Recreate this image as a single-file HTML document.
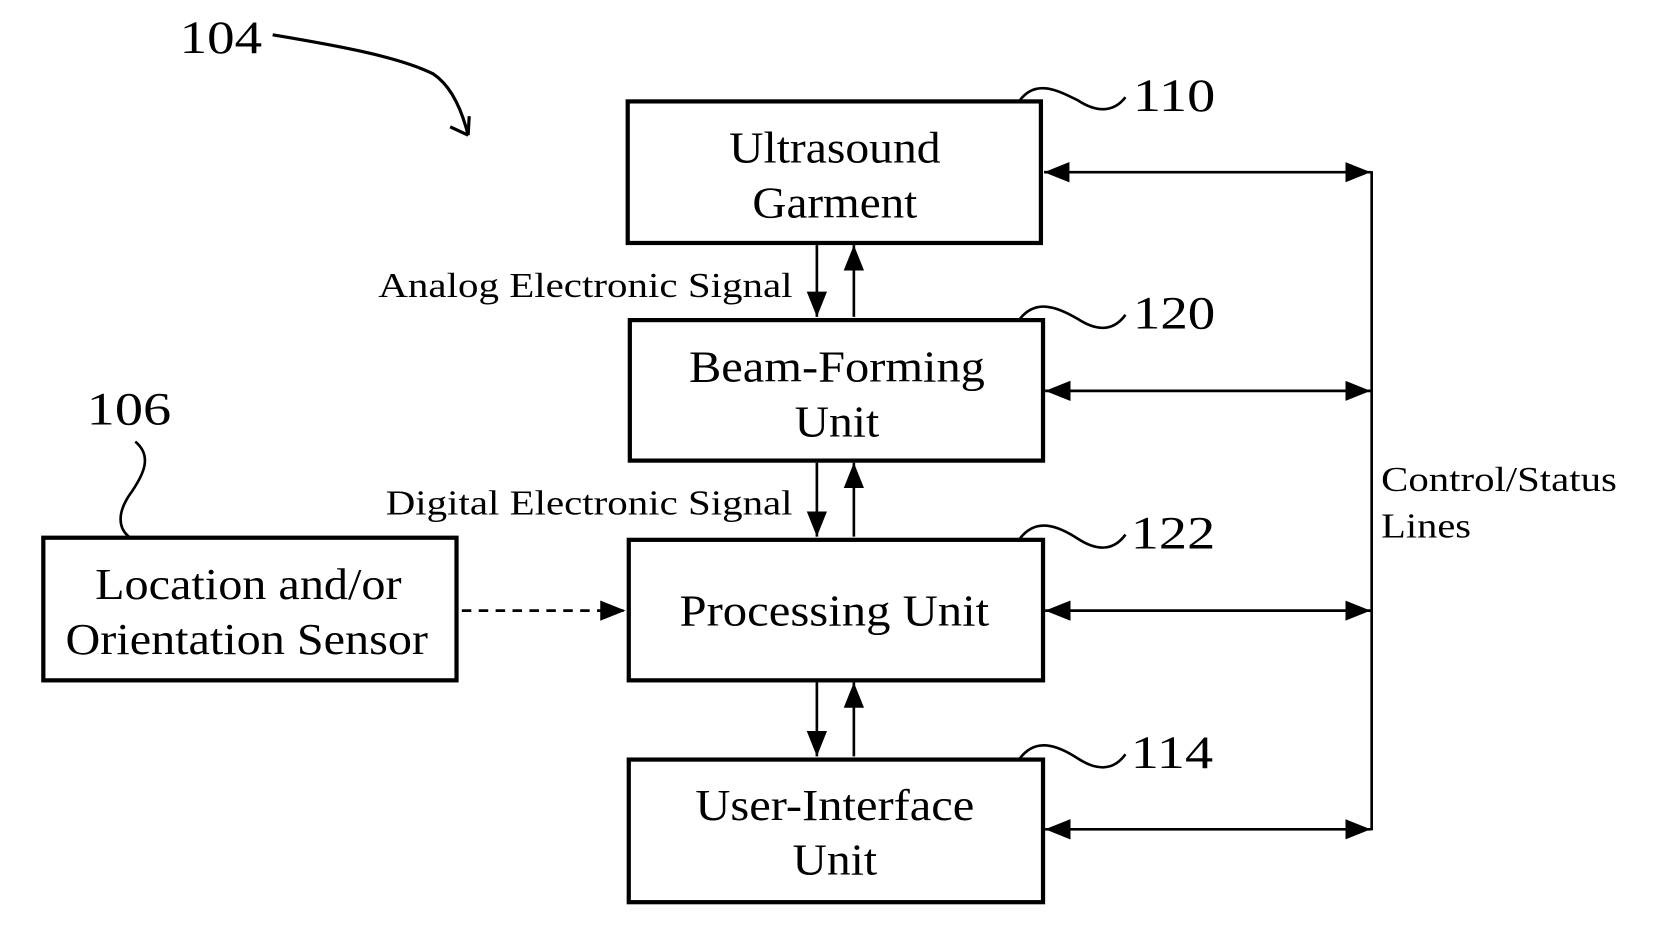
<!DOCTYPE html>
<html><head><meta charset="utf-8"><style>
html,body{margin:0;padding:0;background:#fff;}
svg{display:block;}
text{font-family:"Liberation Serif","Times New Roman","DejaVu Serif",serif;fill:#000;}
</style></head><body>
<svg width="1657" height="936" viewBox="0 0 1568 886" preserveAspectRatio="none" xmlns="http://www.w3.org/2000/svg" font-family="Liberation Serif, Times New Roman, DejaVu Serif, serif">
<defs>
<marker id="a" viewBox="0 0 10 10" refX="10" refY="5" markerWidth="24" markerHeight="24" markerUnits="userSpaceOnUse" orient="auto-start-reverse"><path d="M0,1 L10,5 L0,9 z" fill="#000"/></marker>
</defs>
<g fill="none" stroke="#000" stroke-width="4">
<rect x="594" y="96" width="391" height="134"/>
<rect x="596" y="303" width="391" height="133"/>
<rect x="595" y="511" width="392" height="133"/>
<rect x="595" y="719" width="392" height="135"/>
<rect x="41" y="509" width="391" height="135"/>
</g>
<g stroke="#000" stroke-width="2.5" fill="none">
<line x1="773" y1="232" x2="773" y2="300" marker-end="url(#a)"/>
<line x1="808" y1="300" x2="808" y2="232" marker-end="url(#a)"/>
<line x1="773" y1="438" x2="773" y2="508" marker-end="url(#a)"/>
<line x1="808" y1="508" x2="808" y2="438" marker-end="url(#a)"/>
<line x1="773" y1="646" x2="773" y2="716" marker-end="url(#a)"/>
<line x1="808" y1="716" x2="808" y2="646" marker-end="url(#a)"/>
<line x1="988" y1="163" x2="1297" y2="163" marker-start="url(#a)" marker-end="url(#a)"/>
<line x1="989" y1="370" x2="1297" y2="370" marker-start="url(#a)" marker-end="url(#a)"/>
<line x1="989" y1="578" x2="1297" y2="578" marker-start="url(#a)" marker-end="url(#a)"/>
<line x1="989" y1="785" x2="1297" y2="785" marker-start="url(#a)" marker-end="url(#a)"/>
<line x1="1298" y1="162" x2="1298" y2="786"/>
<line x1="437" y1="578" x2="592" y2="578" stroke-dasharray="9,7" marker-end="url(#a)"/>
<path d="M258,33 C330,45 380,55 410,70 C425,80 436,100 443,128" stroke-width="3"/>
<path d="M443,128 L426,120 M443,128 L444,110" stroke-width="3"/>
<path d="M965,95 C980,75 1000,85 1020,95 C1040,108 1055,105 1065,92"/>
<path d="M965,302 C980,283 1000,290 1020,302 C1040,315 1055,312 1065,298"/>
<path d="M965,510 C980,490 1000,497 1020,510 C1040,523 1055,520 1065,506"/>
<path d="M965,718 C980,698 1000,705 1020,718 C1040,731 1055,728 1065,714"/>
<path d="M128,418 C145,432 135,450 125,465 C110,485 112,500 122,508"/>
</g>
<g font-size="42" lengthAdjust="spacingAndGlyphs">
<text x="690" y="154" textLength="200" lengthAdjust="spacingAndGlyphs">Ultrasound</text>
<text x="712" y="206" textLength="156" lengthAdjust="spacingAndGlyphs">Garment</text>
<text x="652" y="361" textLength="280" lengthAdjust="spacingAndGlyphs">Beam-Forming</text>
<text x="752" y="413" textLength="80" lengthAdjust="spacingAndGlyphs">Unit</text>
<text x="643" y="592" textLength="293" lengthAdjust="spacingAndGlyphs">Processing Unit</text>
<text x="658" y="776" textLength="264" lengthAdjust="spacingAndGlyphs">User-Interface</text>
<text x="750" y="828" textLength="80" lengthAdjust="spacingAndGlyphs">Unit</text>
<text x="90" y="567" textLength="290" lengthAdjust="spacingAndGlyphs">Location and/or</text>
<text x="62" y="619" textLength="343" lengthAdjust="spacingAndGlyphs">Orientation Sensor</text>
</g>
<g font-size="44">
<text x="170" y="50" textLength="78" lengthAdjust="spacingAndGlyphs">104</text>
<text x="82" y="402" textLength="80" lengthAdjust="spacingAndGlyphs">106</text>
<text x="1072" y="105" textLength="78" lengthAdjust="spacingAndGlyphs">110</text>
<text x="1072" y="311" textLength="78" lengthAdjust="spacingAndGlyphs">120</text>
<text x="1070" y="519" textLength="80" lengthAdjust="spacingAndGlyphs">122</text>
<text x="1070" y="727" textLength="78" lengthAdjust="spacingAndGlyphs">114</text>
</g>
<g font-size="33">
<text x="358" y="281" textLength="392" lengthAdjust="spacingAndGlyphs">Analog Electronic Signal</text>
<text x="365" y="487" textLength="385" lengthAdjust="spacingAndGlyphs">Digital Electronic Signal</text>
</g>
<g font-size="33">
<text x="1307" y="465" textLength="223" lengthAdjust="spacingAndGlyphs">Control/Status</text>
<text x="1307" y="509" textLength="85" lengthAdjust="spacingAndGlyphs">Lines</text>
</g>
</svg>
</body></html>
